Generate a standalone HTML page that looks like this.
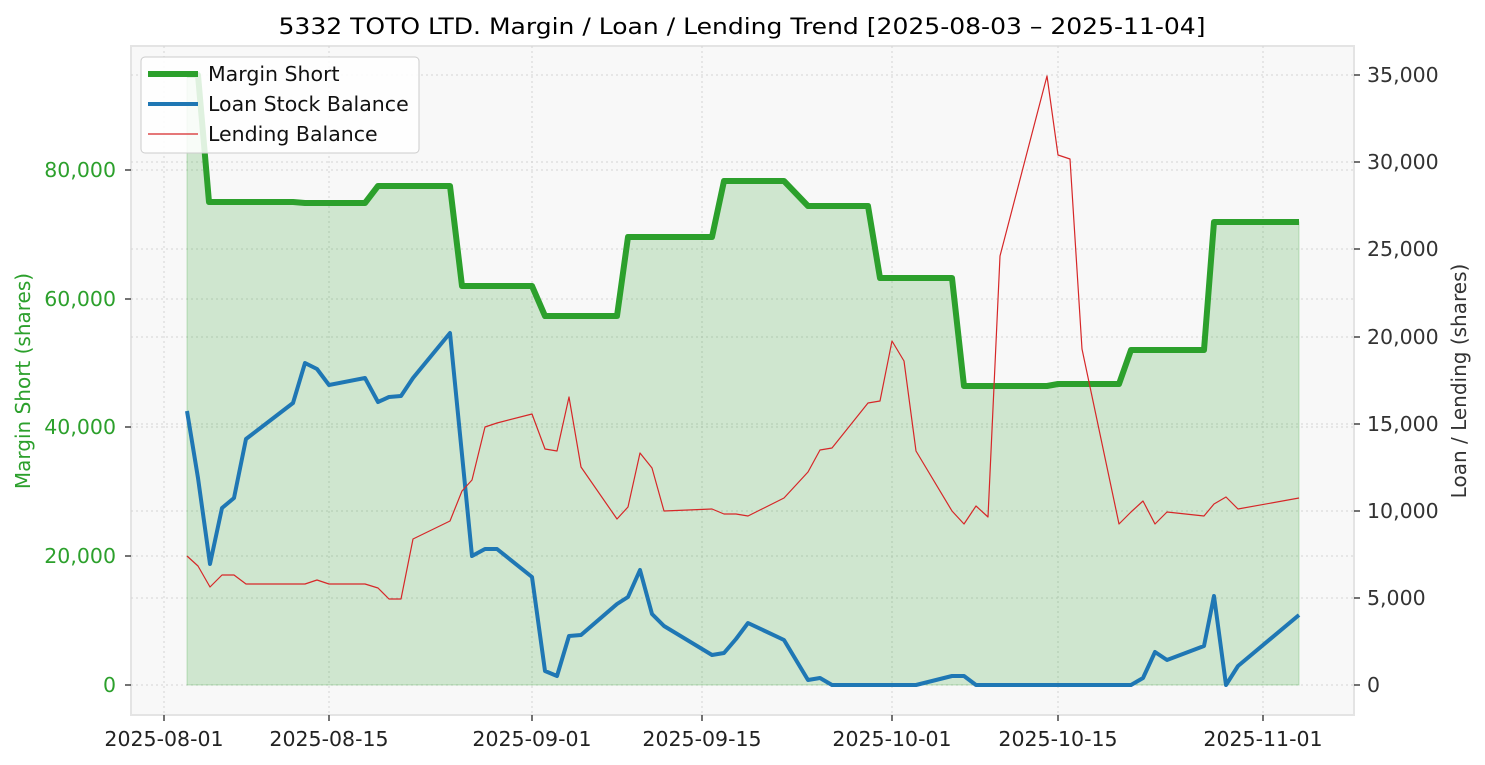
<!DOCTYPE html>
<html><head><meta charset="utf-8"><style>
body{margin:0;background:#fff}
svg{display:block;font-family:"DejaVu Sans","Liberation Sans",sans-serif}
</style></head><body>
<svg width="1485" height="765" viewBox="0 0 1485 765">
<rect x="131" y="46" width="1223" height="669" fill="#f8f8f8" stroke="#e4e4e4" stroke-width="2"/>
<g stroke="#d4d4d4" stroke-dasharray="2,3" stroke-width="1">
<line x1="131" x2="1354" y1="685" y2="685"/><line x1="131" x2="1354" y1="556" y2="556"/><line x1="131" x2="1354" y1="427" y2="427"/><line x1="131" x2="1354" y1="299" y2="299"/><line x1="131" x2="1354" y1="170" y2="170"/>
<line x1="131" x2="1354" y1="598" y2="598"/><line x1="131" x2="1354" y1="511" y2="511"/><line x1="131" x2="1354" y1="424" y2="424"/><line x1="131" x2="1354" y1="337" y2="337"/><line x1="131" x2="1354" y1="249" y2="249"/><line x1="131" x2="1354" y1="162" y2="162"/><line x1="131" x2="1354" y1="75" y2="75"/>
<line y1="46" y2="715" x1="164" x2="164"/><line y1="46" y2="715" x1="329" x2="329"/><line y1="46" y2="715" x1="532" x2="532"/><line y1="46" y2="715" x1="702" x2="702"/><line y1="46" y2="715" x1="892" x2="892"/><line y1="46" y2="715" x1="1058" x2="1058"/><line y1="46" y2="715" x1="1263" x2="1263"/>
</g>
<polygon fill="#2ca02c" fill-opacity="0.2" stroke="#2ca02c" stroke-opacity="0.25" points="187,685 187,75 198,75 209,202 293,202 305,203 365,203 378,186 450,186 462,286 532,286 545,316 617,316 628,237 712,237 724,181 784,181 808,206 868,206 880,278 952,278 964,386 1047,386 1058,384 1119,384 1131,350 1204,350 1214,222 1299,222 1299,685"/>
<polyline fill="none" stroke="#2ca02c" stroke-width="6" stroke-linejoin="round" points="187,75 198,75 209,202 293,202 305,203 365,203 378,186 450,186 462,286 532,286 545,316 617,316 628,237 712,237 724,181 784,181 808,206 868,206 880,278 952,278 964,386 1047,386 1058,384 1119,384 1131,350 1204,350 1214,222 1299,222"/>
<polyline fill="none" stroke="#1f77b4" stroke-width="4" stroke-linejoin="round" points="187,411 198,478 210,564 222,508 234,498 246,439 293,403 305,363 317,369 329,385 365,378 378,402 389,397 401,396 413,378 450,333 472,556 485,549 497,549 532,577 545,671 557,676 569,636 581,635 617,604 628,597 640,570 652,614 664,626 712,655 724,653 736,639 748,623 784,640 808,680 820,678 832,685 892,685 916,685 952,676 964,676 976,685 1047,685 1131,685 1143,678 1155,652 1167,660 1204,646 1214,596 1226,685 1238,666 1299,615"/>
<polyline fill="none" stroke="#d62728" stroke-width="1.2" stroke-linejoin="round" points="187,556 198,566 210,587 222,575 234,575 246,584 293,584 305,584 317,580 329,584 365,584 378,588 389,599 401,599 413,539 450,521 462,491 472,480 485,427 497,423 532,414 545,449 557,451 569,397 581,467 617,519 628,507 640,453 652,468 664,511 712,509 724,514 736,514 748,516 784,498 808,472 820,450 832,448 868,403 880,401 892,341 904,361 916,451 952,511 964,524 976,506 988,517 1000,256 1047,76 1058,155 1070,159 1082,349 1119,524 1131,512 1143,501 1155,524 1167,512 1204,516 1214,504 1226,497 1238,509 1299,498"/>
<g stroke="#444" stroke-width="1.5">
<line x1="125" x2="131" y1="685" y2="685"/><line x1="125" x2="131" y1="556" y2="556"/><line x1="125" x2="131" y1="427" y2="427"/><line x1="125" x2="131" y1="299" y2="299"/><line x1="125" x2="131" y1="170" y2="170"/>
<line x1="1354" x2="1360" y1="685" y2="685"/><line x1="1354" x2="1360" y1="598" y2="598"/><line x1="1354" x2="1360" y1="511" y2="511"/><line x1="1354" x2="1360" y1="424" y2="424"/><line x1="1354" x2="1360" y1="337" y2="337"/><line x1="1354" x2="1360" y1="249" y2="249"/><line x1="1354" x2="1360" y1="162" y2="162"/><line x1="1354" x2="1360" y1="75" y2="75"/>
<line y1="715" y2="721" x1="164" x2="164"/><line y1="715" y2="721" x1="329" x2="329"/><line y1="715" y2="721" x1="532" x2="532"/><line y1="715" y2="721" x1="702" x2="702"/><line y1="715" y2="721" x1="892" x2="892"/><line y1="715" y2="721" x1="1058" x2="1058"/><line y1="715" y2="721" x1="1263" x2="1263"/>
</g>
<g font-size="20.5" fill="#2ca02c" text-anchor="end">
<text x="116" y="692">0</text><text x="116" y="563">20,000</text><text x="116" y="434">40,000</text><text x="116" y="306">60,000</text><text x="116" y="177">80,000</text>
</g>
<g font-size="20.5" fill="#333" text-anchor="start">
<text x="1367" y="692">0</text><text x="1367" y="605">5,000</text><text x="1367" y="518">10,000</text><text x="1367" y="431">15,000</text><text x="1367" y="344">20,000</text><text x="1367" y="256">25,000</text><text x="1367" y="169">30,000</text><text x="1367" y="82">35,000</text>
</g>
<g font-size="20.5" fill="#222" text-anchor="middle">
<text x="164" y="746">2025-08-01</text><text x="329" y="746">2025-08-15</text><text x="532" y="746">2025-09-01</text><text x="702" y="746">2025-09-15</text><text x="892" y="746">2025-10-01</text><text x="1058" y="746">2025-10-15</text><text x="1263" y="746">2025-11-01</text>
</g>
<text x="30" y="381" font-size="20" fill="#2ca02c" text-anchor="middle" transform="rotate(-90 30 381)">Margin Short (shares)</text>
<text x="1466" y="381" font-size="20" fill="#333" text-anchor="middle" transform="rotate(-90 1466 381)">Loan / Lending (shares)</text>
<text x="742" y="34" font-size="22" fill="#000" text-anchor="middle" textLength="927" lengthAdjust="spacingAndGlyphs">5332 TOTO LTD. Margin / Loan / Lending Trend [2025-08-03 – 2025-11-04]</text>
<rect x="141" y="57" width="278" height="96" rx="4" fill="#fff" fill-opacity="0.85" stroke="#ccc"/>
<line x1="148" x2="198" y1="74" y2="74" stroke="#2ca02c" stroke-width="6"/>
<line x1="148" x2="198" y1="104" y2="104" stroke="#1f77b4" stroke-width="4"/>
<line x1="148" x2="198" y1="134" y2="134" stroke="#d62728" stroke-width="1.2"/>
<g font-size="20.5" fill="#111"><text x="208" y="81">Margin Short</text><text x="208" y="111">Loan Stock Balance</text><text x="208" y="141">Lending Balance</text></g>
</svg>
</body></html>
